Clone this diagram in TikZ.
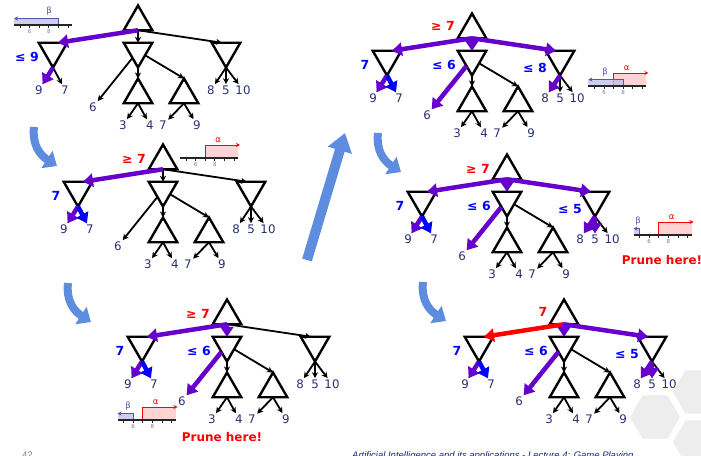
\documentclass[tikz,border=0pt]{standalone}
\usepackage{fontspec}
\setmainfont{DejaVu Sans}
\newfontfamily\footfont{Liberation Sans}
\usetikzlibrary{shapes.geometric,arrows.meta,calc}

\definecolor{leafblue}{RGB}{40,48,115}
\definecolor{purp}{RGB}{102,0,204}
\definecolor{pureblue}{RGB}{0,0,255}
\definecolor{purered}{RGB}{255,0,0}
\definecolor{flowblue}{RGB}{94,140,222}
\definecolor{hexgray}{RGB}{237,237,237}
\definecolor{betablue}{RGB}{85,85,170}
\definecolor{betafill}{RGB}{190,190,235}
\definecolor{alphafill}{RGB}{255,200,200}
\definecolor{tickgray}{RGB}{120,120,170}
\definecolor{footblue}{RGB}{30,40,100}

\tikzset{
  maxn/.style={regular polygon, regular polygon sides=3, minimum size=33pt,
    inner sep=0pt, outer sep=0pt, draw=black, line width=2.4pt},
  minn/.style={maxn, shape border rotate=180},
  leaf/.style={text=leafblue, font=\fontsize{11.8}{11.8}\selectfont, inner sep=1.2pt},
  treeline/.style={draw=black, line width=1.8pt, -{Stealth[length=6pt,width=6pt]}},
  hot/.style={line width=4.5pt, -{Triangle[length=10pt,width=13pt]}},
  vlab/.style={font=\bfseries\fontsize{12.5}{12.5}\selectfont, inner sep=0pt},
  ticklab/.style={text=tickgray, font=\fontsize{5.5}{5.5}\selectfont, inner sep=0pt},
  greek/.style={font=\fontsize{8.5}{8.5}\selectfont, inner sep=0pt},
  prune/.style={text=purered, font=\bfseries\fontsize{12}{12}\selectfont, inner sep=0pt},
  flowcurve/.style={draw=flowblue, line width=8pt, -{Triangle[length=12pt,width=20pt]}},
  flowstraight/.style={draw=flowblue, line width=10pt, -{Triangle[length=18pt,width=24pt]}},
  footer/.style={text=footblue, font=\footfont\itshape\fontsize{9.5}{9.5}\selectfont, inner sep=0pt}
}

% one game tree: #1 name prefix, #2/#3 shift
\newcommand\gametree[3]{%
  \begin{scope}[shift={(#2,#3)}]
    \node[maxn] (#1r) at (138,22) {};
    \node[minn] (#1a) at (53,51) {};
    \node[minn] (#1b) at (138,51) {};
    \node[minn] (#1c) at (226,51) {};
    \node[maxn] (#1d) at (138,95) {};
    \node[maxn] (#1e) at (184,95) {};
    \node[leaf] (#1a1) at (39,90) {9};
    \node[leaf] (#1a2) at (65,90) {7};
    \node[leaf] (#1b1) at (93,107) {6};
    \node[leaf] (#1d1) at (123,125) {3};
    \node[leaf] (#1d2) at (150,125) {4};
    \node[leaf] (#1e1) at (163,125) {7};
    \node[leaf] (#1e2) at (197,125) {9};
    \node[leaf] (#1c1) at (211,90) {8};
    \node[leaf] (#1c2) at (226,90) {5};
    \node[leaf] (#1c3) at (243,90) {10};
  \end{scope}
  \draw[treeline] (#1r.south) -- ($(#1a.north)+(5,0)$);
  \draw[treeline] (#1r.south) -- (#1b.north);
  \draw[treeline] (#1r.south) -- ($(#1c.north)+(-4,0)$);
  \draw[treeline] (#1a.south) -- (#1a1);
  \draw[treeline] (#1a.south) -- (#1a2);
  \draw[treeline] (#1b) -- (#1b1);
  \draw[treeline] (#1b.south) -- (#1d.north);
  \draw[treeline] (#1b) -- (#1e.north);
  \draw[treeline] (#1c.south) -- (#1c1);
  \draw[treeline] (#1c.south) -- (#1c2);
  \draw[treeline] (#1c.south) -- (#1c3);
  \draw[treeline] (#1d.south) -- (#1d1);
  \draw[treeline] (#1d.south) -- (#1d2);
  \draw[treeline] (#1e.south) -- (#1e1);
  \draw[treeline] (#1e.south) -- (#1e2);
}

% number line: #1 name, #2 x of value 5, #3 axis y
\newcommand\scaleaxis[3]{%
  \draw[line width=1.1pt, black!85] (#2-6,#3) -- (#2+52,#3);
  \foreach \k in {0,...,5}
    \draw[line width=0.8pt, black!85] (#2+\k*9.6,#3-1.5) -- (#2+\k*9.6,#3+3);
  \node[ticklab] (#1six) at (#2+9.6,#3+6.5) {6};
  \node[ticklab] (#1eight) at (#2+28.8,#3+6.5) {8};
}
% beta band: #1 name, #2 left x, #3 axis y, #4 beta x, #5 label x
\newcommand\betaband[5]{%
  \fill[betafill, opacity=0.75] (#2,#3-6.5) rectangle (#4,#3);
  \draw[betablue, line width=1pt, -{Stealth[length=4pt,width=4pt]}] (#4,#3) |- (#2,#3-6.5);
  \node[greek, text=betablue] (#1) at (#5,#3-14) {β};
}
% alpha band: #1 name, #2 alpha x, #3 axis y, #4 right x
\newcommand\alphaband[4]{%
  \fill[alphafill, opacity=0.8] (#2,#3-13) rectangle (#4,#3);
  \draw[purered, line width=1pt, -{Stealth[length=4pt,width=4pt]}] (#2,#3) |- (#4+2,#3-13);
  \node[greek, text=purered] (#1) at (#2+13,#3-18) {α};
}

\begin{document}
\begin{tikzpicture}[x=1pt,y=-1pt]
\useasboundingbox (0,0) rectangle (701,455);
\fill[white] (0,0) rectangle (701,455);
\clip (0,0) rectangle (701,455);

% background hexagons
\foreach \cx/\cy in {655/417, 698/392, 698/442}
  \fill[hexgray] (\cx,\cy) +(0:25) -- +(60:25) -- +(120:25) -- +(180:25) -- +(240:25) -- +(300:25) -- cycle;

% flow arrows between the stages
\coordinate (f1s) at (34,127);  \coordinate (f1e) at (57,166);
\coordinate (f2s) at (68,283);  \coordinate (f2e) at (91,322);
\coordinate (f3s) at (378,133); \coordinate (f3e) at (401,172);
\coordinate (f4s) at (423,282); \coordinate (f4e) at (446,321);
\coordinate (f5s) at (307,260); \coordinate (f5e) at (345,133);
\draw[flowcurve] (f1s) .. controls ($(f1s)+(-2,18)$) and ($(f1e)+(-17,-11)$) .. (f1e);
\draw[flowcurve] (f2s) .. controls ($(f2s)+(-2,18)$) and ($(f2e)+(-17,-11)$) .. (f2e);
\draw[flowcurve] (f3s) .. controls ($(f3s)+(-2,18)$) and ($(f3e)+(-17,-11)$) .. (f3e);
\draw[flowcurve] (f4s) .. controls ($(f4s)+(-2,18)$) and ($(f4e)+(-17,-11)$) .. (f4e);
\draw[flowstraight] (f5s) -- (f5e);

% stage 1
\gametree{p1}{0}{0}
\draw[hot, draw=purp] (p1r.south) -- ($(p1a.north)+(5,0)$);
\draw[hot, draw=purp] (p1a.south) -- (p1a1);
\node[vlab, text=pureblue] (p1v) at (27,57) {≤ 9};
\betaband{p1beta}{14}{25}{58.4}{49}
\scaleaxis{p1ax}{20}{25}

% stage 2
\gametree{p2}{25}{139}
\draw[hot, draw=purp] (p2r.south) -- ($(p2a.north)+(5,0)$);
\draw[hot, draw=purp] (p2a.south) -- (p2a1);
\draw[hot, draw=pureblue] (p2a.south) -- (p2a2);
\begin{scope}[shift={(25,139)}]
  \node[vlab, text=purered] (p2v) at (109,20) {≥ 7};
  \node[vlab, text=pureblue] (p2va) at (31,57) {7};
\end{scope}
\alphaband{p2alpha}{205.2}{158}{238}
\scaleaxis{p2ax}{186}{158}

% stage 3
\gametree{p3}{89}{294}
\draw[hot, draw=purp] (p3r.south) -- ($(p3a.north)+(5,0)$);
\draw[hot, draw=purp] (p3r.south) -- (p3b.north);
\draw[hot, draw=purp] (p3a.south) -- (p3a1);
\draw[hot, draw=pureblue] (p3a.south) -- (p3a2);
\draw[hot, draw=purp] (p3b) -- (p3b1);
\begin{scope}[shift={(89,294)}]
  \node[vlab, text=purered] (p3v) at (109,20) {≥ 7};
  \node[vlab, text=pureblue] (p3va) at (31,57) {7};
  \node[vlab, text=pureblue] (p3vb) at (110,57) {≤ 6};
\end{scope}
\alphaband{p3alpha}{142.7}{420}{175.5}
\betaband{p3beta}{117.5}{420}{133.1}{128}
\scaleaxis{p3ax}{123.5}{420}
\node[prune] (p3prune) at (222,437) {Prune here!};

% stage 4
\gametree{p4}{334}{8}
\draw[hot, draw=purp] (p4r.south) -- ($(p4a.north)+(5,0)$);
\draw[hot, draw=purp] (p4r.south) -- (p4b.north);
\draw[hot, draw=purp] (p4r.south) -- ($(p4c.north)+(-4,0)$);
\draw[hot, draw=purp] (p4a.south) -- (p4a1);
\draw[hot, draw=pureblue] (p4a.south) -- (p4a2);
\draw[hot, draw=purp] (p4b) -- (p4b1);
\draw[hot, draw=purp] (p4c.south) -- (p4c1);
\begin{scope}[shift={(334,8)}]
  \node[vlab, text=purered] (p4v) at (109,18) {≥ 7};
  \node[vlab, text=pureblue] (p4va) at (31,57) {7};
  \node[vlab, text=pureblue] (p4vb) at (110,57) {≤ 6};
  \node[vlab, text=pureblue] (p4vc) at (201,60) {≤ 8};
\end{scope}
\alphaband{p4alpha}{613.6}{86}{646.4}
\betaband{p4beta}{588.4}{86}{623.2}{605}
\scaleaxis{p4ax}{594.4}{86}

% stage 5
\gametree{p5}{369}{149}
\draw[hot, draw=purp] (p5r.south) -- ($(p5a.north)+(5,0)$);
\draw[hot, draw=purp] (p5r.south) -- (p5b.north);
\draw[hot, draw=purp] (p5r.south) -- ($(p5c.north)+(-4,0)$);
\draw[hot, draw=purp] (p5a.south) -- (p5a1);
\draw[hot, draw=pureblue] (p5a.south) -- (p5a2);
\draw[hot, draw=purp] (p5b) -- (p5b1);
\draw[hot, draw=purp] (p5c.south) -- (p5c1);
\draw[hot, draw=purp] (p5c.south) -- (p5c2);
\begin{scope}[shift={(369,149)}]
  \node[vlab, text=purered] (p5v) at (109,20) {≥ 7};
  \node[vlab, text=pureblue] (p5va) at (31,57) {7};
  \node[vlab, text=pureblue] (p5vb) at (110,57) {≤ 6};
  \node[vlab, text=pureblue] (p5vc) at (201,60) {≤ 5};
\end{scope}
\alphaband{p5alpha}{658.7}{235}{691.5}
\betaband{p5beta}{633.5}{235}{639.5}{638}
\scaleaxis{p5ax}{639.5}{235}
\node[prune] (p5prune) at (662,260) {Prune here!};

% stage 6
\gametree{p6}{426}{294}
\draw[hot, draw=purered] (p6r.south) -- ($(p6a.north)+(5,0)$);
\draw[hot, draw=purp] (p6r.south) -- (p6b.north);
\draw[hot, draw=purp] (p6r.south) -- ($(p6c.north)+(-4,0)$);
\draw[hot, draw=purp] (p6a.south) -- (p6a1);
\draw[hot, draw=pureblue] (p6a.south) -- (p6a2);
\draw[hot, draw=purp] (p6b) -- (p6b1);
\draw[hot, draw=purp] (p6c.south) -- (p6c1);
\draw[hot, draw=purp] (p6c.south) -- (p6c2);
\begin{scope}[shift={(426,294)}]
  \node[vlab, text=purered] (p6v) at (117,18) {7};
  \node[vlab, text=pureblue] (p6va) at (31,57) {7};
  \node[vlab, text=pureblue] (p6vb) at (110,57) {≤ 6};
  \node[vlab, text=pureblue] (p6vc) at (201,60) {≤ 5};
\end{scope}

% footer
\node[footer, font=\footfont\fontsize{9.5}{9.5}\selectfont, text=gray, anchor=base west] (pagenum) at (22,458) {42};
\node[footer, anchor=base west] (foottext) at (352,458) {Artificial Intelligence and its applications - Lecture 4: Game Playing};
\end{tikzpicture}
\end{document}
